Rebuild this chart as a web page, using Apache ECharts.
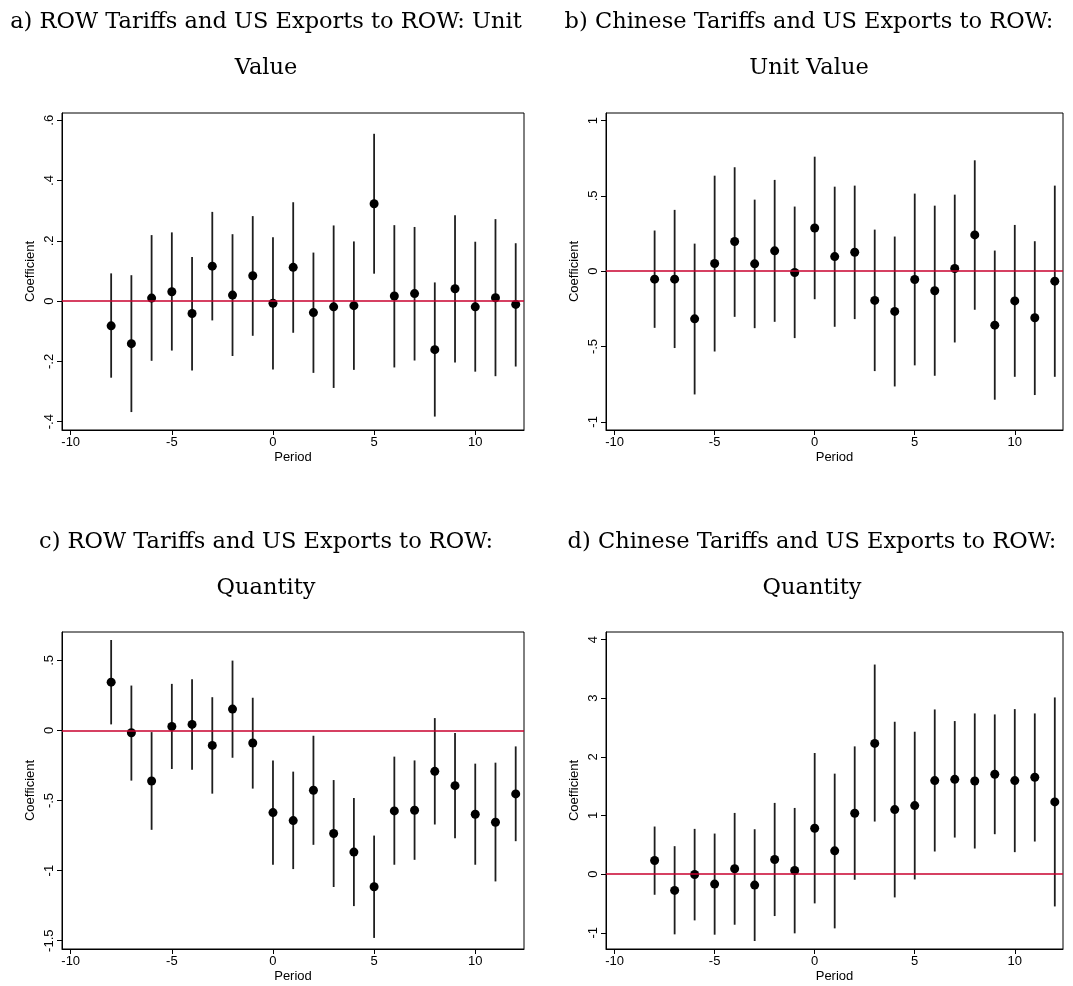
<!DOCTYPE html>
<html>
<head>
<meta charset="utf-8">
<script src="https://cdn.jsdelivr.net/npm/echarts@6/dist/echarts.min.js"></script>
<style>
html,body{margin:0;padding:0;background:#fff;}
#main{width:1073px;height:986px;}
</style>
</head>
<body>
<div id="main"></div>
<script>
// ---------------- Data ----------------
const periods = [-8,-7,-6,-5,-4,-3,-2,-1,0,1,2,3,4,5,6,7,8,9,10,11,12];

// a) ROW Tariffs and US Exports to ROW: Unit Value
const aCoef = [-0.082,-0.141,0.010,0.031,-0.041,0.116,0.020,0.084,-0.007,0.112,-0.038,-0.019,-0.015,0.323,0.017,0.025,-0.161,0.041,-0.019,0.011,-0.011];
const aHi   = [0.092,0.086,0.219,0.228,0.146,0.296,0.222,0.282,0.212,0.328,0.161,0.251,0.198,0.555,0.252,0.246,0.062,0.285,0.197,0.272,0.192];
const aLo   = [-0.254,-0.368,-0.198,-0.164,-0.230,-0.064,-0.182,-0.115,-0.227,-0.105,-0.238,-0.288,-0.228,0.091,-0.220,-0.197,-0.383,-0.204,-0.234,-0.249,-0.217];

// b) Chinese Tariffs and US Exports to ROW: Unit Value
const bCoef = [-0.053,-0.053,-0.316,0.051,0.197,0.049,0.135,-0.009,0.287,0.097,0.126,-0.194,-0.267,-0.055,-0.130,0.018,0.241,-0.358,-0.197,-0.309,-0.066];
const bHi   = [0.270,0.407,0.183,0.634,0.690,0.475,0.606,0.429,0.760,0.561,0.568,0.276,0.230,0.515,0.435,0.508,0.736,0.137,0.307,0.199,0.568];
const bLo   = [-0.376,-0.510,-0.818,-0.533,-0.303,-0.378,-0.336,-0.444,-0.186,-0.369,-0.318,-0.663,-0.765,-0.625,-0.694,-0.473,-0.256,-0.853,-0.701,-0.822,-0.701];

// c) ROW Tariffs and US Exports to ROW: Quantity
const cCoef = [0.344,-0.017,-0.361,0.028,0.043,-0.107,0.152,-0.090,-0.586,-0.643,-0.427,-0.735,-0.868,-1.115,-0.574,-0.569,-0.292,-0.394,-0.598,-0.655,-0.453];
const cHi   = [0.645,0.320,-0.012,0.332,0.365,0.237,0.498,0.233,-0.214,-0.294,-0.038,-0.354,-0.482,-0.750,-0.187,-0.214,0.088,-0.019,-0.237,-0.230,-0.114];
const cLo   = [0.043,-0.358,-0.709,-0.275,-0.280,-0.451,-0.195,-0.415,-0.958,-0.989,-0.816,-1.117,-1.253,-1.480,-0.958,-0.923,-0.671,-0.769,-0.958,-1.077,-0.790];

// d) Chinese Tariffs and US Exports to ROW: Quantity
const dCoef = [0.233,-0.278,-0.006,-0.170,0.091,-0.187,0.250,0.062,0.783,0.397,1.039,2.230,1.101,1.169,1.595,1.617,1.589,1.703,1.595,1.652,1.232];
const dHi   = [0.812,0.477,0.772,0.692,1.044,0.766,1.215,1.129,2.066,1.714,2.179,3.575,2.599,2.429,2.809,2.611,2.741,2.724,2.815,2.741,3.014];
const dLo   = [-0.352,-1.027,-0.789,-1.033,-0.863,-1.141,-0.715,-1.010,-0.499,-0.925,-0.096,0.897,-0.397,-0.091,0.386,0.624,0.437,0.681,0.375,0.556,-0.551];

const titlesLine1 = ["a) ROW Tariffs and US Exports to ROW: Unit","b) Chinese Tariffs and US Exports to ROW:","c) ROW Tariffs and US Exports to ROW:","d) Chinese Tariffs and US Exports to ROW:"];
const titlesLine2 = ["Value","Unit Value","Quantity","Quantity"];

const xTicks = [-10,-5,0,5,10];
const yTicksA = [-0.4,-0.2,0,0.2,0.4,0.6];
const yTicksB = [-1,-0.5,0,0.5,1];
const yTicksC = [-1.5,-1,-0.5,0,0.5];
const yTicksD = [-1,0,1,2,3,4];

const yRanges = [[-0.4275,0.624],[-1.054,1.050],[-1.559,0.702],[-1.277,4.13]];
const xRange = [-10.43,12.41];

// ---------------- Build ----------------
const panels = [
  {coef:aCoef, lo:aLo, hi:aHi, yTicks:yTicksA},
  {coef:bCoef, lo:bLo, hi:bHi, yTicks:yTicksB},
  {coef:cCoef, lo:cLo, hi:cHi, yTicks:yTicksC},
  {coef:dCoef, lo:dLo, hi:dHi, yTicks:yTicksD}
];
const gridPos = [
  {left:62, top:113, width:462, height:317},
  {left:606, top:113, width:457, height:317},
  {left:62, top:632, width:462, height:317},
  {left:606, top:632, width:457, height:317}
];
const titleCenters = [[266,22,68],[809,22,68],[266,542,588],[812,542,588]];

const axisFont = 'Liberation Sans, Arial, sans-serif';
function fmt(v){
  let s = String(Math.round(v*10)/10);
  return s.replace(/^0\./,'.').replace(/^-0\./,'-.');
}

const grids=[], xAxes=[], yAxes=[], series=[], graphics=[];
panels.forEach((p,i)=>{
  grids.push(Object.assign({show:true, borderColor:'#000', borderWidth:1, backgroundColor:'#fff', containLabel:false}, gridPos[i]));
  xAxes.push({
    type:'value', gridIndex:i, min:xRange[0], max:xRange[1],
    name:'Period', nameLocation:'middle', nameGap:21,
    nameTextStyle:{fontFamily:axisFont, fontSize:13, color:'#000'},
    axisLine:{show:true, onZero:false, lineStyle:{color:'#000', width:1}},
    axisTick:{show:true, length:5, customValues:xTicks, lineStyle:{color:'#000'}},
    axisLabel:{customValues:xTicks, fontFamily:axisFont, fontSize:13, color:'#000', margin:6},
    splitLine:{show:false}
  });
  yAxes.push({
    type:'value', gridIndex:i, min:yRanges[i][0], max:yRanges[i][1],
    name:'Coefficient', nameLocation:'middle', nameGap:25,
    nameTextStyle:{fontFamily:axisFont, fontSize:13, color:'#000'},
    axisLine:{show:true, onZero:false, lineStyle:{color:'#000', width:1}},
    axisTick:{show:true, length:5, customValues:p.yTicks, lineStyle:{color:'#000'}},
    axisLabel:{customValues:p.yTicks, rotate:90, fontFamily:axisFont, fontSize:13, color:'#000', margin:6, formatter:fmt},
    splitLine:{show:false}
  });
  // zero reference line
  series.push({
    type:'line', xAxisIndex:i, yAxisIndex:i, data:[], z:1, silent:true,
    markLine:{silent:true, symbol:['none','none'], label:{show:false},
      lineStyle:{color:'#c8002e', width:1.5, type:'solid', opacity:1},
      emphasis:{disabled:true},
      data:[{yAxis:0}]}
  });
  // confidence intervals
  series.push({
    type:'custom', xAxisIndex:i, yAxisIndex:i, z:2, silent:true,
    data: periods.map((x,k)=>[x, p.lo[k], p.hi[k]]),
    encode:{x:0, y:[1,2]},
    renderItem:function(params, api){
      const a = api.coord([api.value(0), api.value(1)]);
      const b = api.coord([api.value(0), api.value(2)]);
      return {type:'line', shape:{x1:a[0], y1:a[1], x2:b[0], y2:b[1]},
        style:{stroke:'#1e1e1e', lineWidth:1.8}};
    }
  });
  // point estimates
  series.push({
    type:'scatter', xAxisIndex:i, yAxisIndex:i, z:3, silent:true,
    symbol:'circle', symbolSize:9,
    itemStyle:{color:'#000', opacity:1},
    data: periods.map((x,k)=>[x, p.coef[k]])
  });
  const tc = titleCenters[i];
  graphics.push({type:'text', x:tc[0], y:tc[1], style:{text:titlesLine1[i], fill:'#000', font:'22.5px "DejaVu Serif", serif', textAlign:'center', textVerticalAlign:'middle'}});
  graphics.push({type:'text', x:tc[0], y:tc[2], style:{text:titlesLine2[i], fill:'#000', font:'22.5px "DejaVu Serif", serif', textAlign:'center', textVerticalAlign:'middle'}});
});

const chart = echarts.init(document.getElementById('main'), null, {renderer:'canvas'});
chart.setOption({
  backgroundColor:'#fff',
  animation:false,
  grid:grids, xAxis:xAxes, yAxis:yAxes, series:series,
  graphic:graphics
});
</script>
</body>
</html>
